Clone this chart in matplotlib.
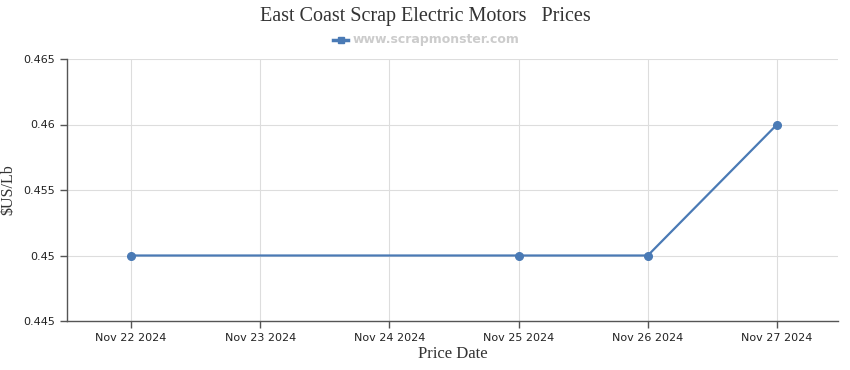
import matplotlib
matplotlib.use("Agg")
import matplotlib.pyplot as plt
import datetime as dt

dates = ["2024-11-22", "2024-11-25", "2024-11-26", "2024-11-27"]
prices = [0.45, 0.45, 0.45, 0.46]
tick_dates = ["2024-11-22", "2024-11-23", "2024-11-24", "2024-11-25", "2024-11-26", "2024-11-27"]
tick_labels = ["Nov 22 2024", "Nov 23 2024", "Nov 24 2024", "Nov 25 2024", "Nov 26 2024", "Nov 27 2024"]
yticks = [0.445, 0.45, 0.455, 0.46, 0.465]
ytick_labels = ["0.445", "0.45", "0.455", "0.46", "0.465"]

x = [dt.datetime.strptime(d, "%Y-%m-%d") for d in dates]
tx = [dt.datetime.strptime(d, "%Y-%m-%d") for d in tick_dates]

fig = plt.figure(figsize=(8.5, 3.7), dpi=100)
ax = fig.add_axes([67/850, 1-321/370, (838-67)/850, (321-59)/370])

color = "#4a7ab5"
ax.plot(x, prices, color=color, lw=1.6, marker="o", ms=5.5, zorder=3,
        label="www.scrapmonster.com")

ax.set_xticks(tx)
ax.set_xticklabels(tick_labels, fontsize=8, color="#222222")
ax.set_xlim(tx[0] - dt.timedelta(days=0.495), tx[-1] + dt.timedelta(days=0.472))
ax.set_yticks(yticks)
ax.set_yticklabels(ytick_labels, fontsize=8, color="#222222")
ax.set_ylim(0.445, 0.465)

ax.grid(True, color="#dddddd", lw=0.8)
ax.set_axisbelow(True)
for s in ["top", "right"]:
    ax.spines[s].set_visible(False)
for s in ["left", "bottom"]:
    ax.spines[s].set_color("#555555")
    ax.spines[s].set_linewidth(1)
ax.tick_params(axis="both", length=5, color="#555555", width=1)

ax.set_xlabel("Price Date", fontfamily="Liberation Serif", fontsize=12, color="#333333", labelpad=2)
ax.set_ylabel("$US/Lb", fontfamily="Liberation Serif", fontsize=11.5, color="#333333", labelpad=5)

fig.text(425/850, 1-17/370, "East Coast Scrap Electric Motors   Prices", ha="center", va="center",
         fontfamily="Liberation Serif", fontsize=14.5, color="#333333")

# legend
lx0, lx1, ly = 333, 348, 40
fig.add_artist(plt.Line2D([lx0/850, lx1/850], [1-ly/370, 1-ly/370], color=color, lw=2.5,
                          transform=fig.transFigure))
fig.add_artist(plt.Line2D([(lx0+lx1)/2/850], [1-ly/370], color=color, marker="s", ms=5,
                          transform=fig.transFigure))
fig.text(353/850, 1-ly/370, "www.scrapmonster.com", ha="left", va="center",
         fontsize=9, fontweight="bold", color="#cccccc")

fig.savefig("out.png", dpi=100)
